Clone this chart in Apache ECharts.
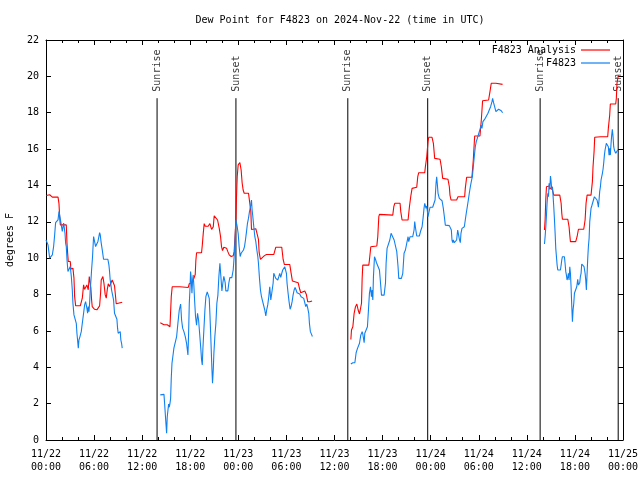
<!DOCTYPE html>
<html>
<head>
<meta charset="utf-8">
<script src="https://cdn.jsdelivr.net/npm/echarts@6/dist/echarts.min.js"></script>
<style>html,body{margin:0;padding:0;background:#fff}#c{width:640px;height:480px}</style>
</head>
<body>
<div id="c"></div>
<script>
// hours since 2024-11-22 00:00 UTC, dew point (degrees F)
const xTickLabels = ['11/22\n00:00','11/22\n06:00','11/22\n12:00','11/22\n18:00','11/23\n00:00','11/23\n06:00','11/23\n12:00','11/23\n18:00','11/24\n00:00','11/24\n06:00','11/24\n12:00','11/24\n18:00','11/25\n00:00'];

const analysisSeg1 = [[0.04,13.45],[0.46,13.49],[0.79,13.36],[1.5,13.36],[1.62,13.0],[1.7,12.3],[1.79,11.83],[2.53,11.83],[2.62,10.8],[2.7,10.28],[2.78,9.82],[3.03,9.82],[3.11,9.4],[3.36,9.45],[3.49,8.9],[3.57,7.9],[3.7,7.38],[4.28,7.38],[4.4,7.43],[4.53,7.8],[4.69,8.53],[4.82,8.29],[5.02,8.26],[5.1,8.53],[5.27,8.26],[5.4,8.99],[5.52,9.08],[5.6,8.35],[5.69,7.7],[5.77,7.33],[6.06,7.19],[6.35,7.16],[6.52,7.12],[6.69,7.38],[6.81,8.07],[6.89,8.8],[7.1,8.99],[7.23,8.62],[7.39,7.98],[7.52,7.8],[7.64,8.26],[7.77,8.59],[7.93,8.44],[8.1,8.53],[8.26,8.8],[8.43,8.84],[8.55,8.48],[8.68,7.89],[8.76,7.49],[8.97,7.58],[9.51,7.58]];
const analysisSeg2 = [[14.26,6.45],[14.47,6.56],[14.72,6.34],[15.13,6.34],[15.3,6.38],[15.47,6.23],[15.55,6.23],[15.63,7.88],[15.75,8.43],[16.71,8.43],[17.75,8.39],[17.88,8.6],[18.29,8.69],[18.62,9.1],[18.7,9.87],[18.79,10.3],[19.41,10.3],[19.5,10.7],[19.62,11.35],[19.74,11.9],[19.87,11.76],[20.24,11.76],[20.45,11.9],[20.66,11.58],[20.87,11.72],[20.99,12.33],[21.2,12.28],[21.41,12.1],[21.62,11.64],[21.78,11.19],[21.9,10.64],[22.03,10.42],[22.19,10.6],[22.53,10.55],[22.69,10.36],[22.86,10.18],[23.11,10.09],[23.36,10.13],[23.48,10.36],[23.61,10.27],[23.69,12.01],[23.77,13.38],[23.86,14.48],[23.98,15.13],[24.19,15.26],[24.35,14.85],[24.48,14.12],[24.6,13.75],[24.73,13.57],[25.27,13.57],[25.43,13.02],[25.56,12.56],[25.64,11.58],[25.85,11.49],[26.18,11.62],[26.35,11.58],[26.51,11.03],[26.6,10.3],[26.76,9.93],[26.93,9.84],[27.26,10.14],[27.51,10.2],[28.42,10.2],[28.67,10.6],[29.42,10.6],[29.59,9.93],[29.75,9.65],[30.42,9.65],[30.58,9.19],[30.75,8.74],[30.92,8.65],[31.46,8.65],[31.66,8.29],[31.79,8.1],[32.29,8.2],[32.49,8.0],[32.66,7.6],[32.91,7.6],[33.2,7.65]];
const analysisSeg3 = [[38.04,5.53],[38.12,6.05],[38.29,6.23],[38.45,6.97],[38.62,7.33],[38.79,7.48],[38.95,7.15],[39.12,6.93],[39.28,6.87],[39.37,7.52],[39.45,8.89],[39.53,9.62],[40.28,9.62],[40.36,9.9],[40.53,10.63],[41.28,10.67],[41.4,11.18],[41.53,12.28],[41.61,12.41],[43.27,12.37],[43.4,12.83],[43.52,13.02],[44.18,13.02],[44.27,12.56],[44.43,12.1],[45.18,12.1],[45.35,12.83],[45.51,13.38],[45.68,13.84],[46.26,13.9],[46.39,14.48],[46.51,14.7],[47.26,14.7],[47.34,15.03],[47.51,15.58],[47.67,16.41],[47.76,16.65],[48.17,16.65],[48.34,16.32],[48.5,15.49],[48.67,15.44],[49.17,15.44],[49.33,15.03],[49.5,14.39],[50.16,14.34],[50.33,13.93],[50.41,13.47],[50.54,13.2],[51.24,13.2],[51.41,13.38],[52.24,13.38],[52.32,13.84],[52.49,14.45],[53.15,14.45],[53.32,15.4],[53.49,16.72],[54.15,16.72],[54.32,17.6],[54.48,18.66],[55.23,18.7],[55.4,19.16],[55.56,19.62],[56.14,19.62],[56.31,19.56],[56.97,19.56]];
const analysisSeg4 = [[62.2,11.55],[62.28,12.1],[62.37,13.29],[62.45,13.93],[62.53,13.97],[62.78,13.97],[62.87,13.79],[63.11,13.93],[63.2,13.75],[63.36,13.47],[64.11,13.47],[64.28,13.02],[64.36,12.47],[64.44,12.14],[65.11,12.14],[65.27,11.73],[65.36,11.27],[65.44,10.91],[66.1,10.91],[66.27,11.18],[66.44,11.59],[67.1,11.59],[67.27,12.1],[67.39,13.02],[67.52,13.47],[68.01,13.47],[68.18,14.21],[68.26,15.03],[68.39,15.86],[68.47,16.65],[69.22,16.68],[70.09,16.68],[70.17,17.14],[70.34,17.87],[70.42,18.48],[71.09,18.48],[71.17,18.79],[71.25,19.62],[71.42,20.07]];

const obsSeg1 = [[0,11.0],[0.12,11.0],[0.25,10.73],[0.46,10.0],[0.66,10.0],[0.79,10.18],[0.95,10.64],[1.08,11.28],[1.2,11.96],[1.37,12.02],[1.5,12.11],[1.62,12.57],[1.74,12.48],[1.87,11.93],[2.03,11.47],[2.2,11.93],[2.37,11.38],[2.45,10.83],[2.53,10.64],[2.62,9.91],[2.74,9.27],[2.87,9.27],[3.03,9.54],[3.16,8.99],[3.28,8.26],[3.36,7.52],[3.49,6.88],[3.7,6.83],[3.78,6.42],[3.86,5.87],[3.94,5.5],[4.03,5.05],[4.11,5.5],[4.24,5.69],[4.4,5.96],[4.53,6.42],[4.69,6.97],[4.82,7.43],[4.94,7.61],[5.1,7.25],[5.19,6.97],[5.27,7.34],[5.36,7.06],[5.44,7.52],[5.52,8.26],[5.61,8.8],[5.69,9.36],[5.81,10.09],[5.86,10.55],[5.94,11.19],[6.02,11.28],[6.1,11.1],[6.19,10.64],[6.27,10.73],[6.35,10.64],[6.48,10.92],[6.6,11.19],[6.69,11.41],[6.77,11.28],[6.89,10.83],[7.02,10.46],[7.18,9.94],[7.72,9.94],[7.85,9.63],[7.93,9.27],[8.01,8.8],[8.1,8.53],[8.18,8.26],[8.35,8.17],[8.43,7.71],[8.55,6.97],[8.68,6.97],[8.85,6.64],[8.93,6.15],[9.01,5.87],[9.1,5.96],[9.18,5.78],[9.26,5.96],[9.34,5.5],[9.43,5.32],[9.51,5.05]];
const obsSeg2 = [[14.26,2.48],[14.72,2.51],[14.8,2.01],[14.88,1.47],[14.97,0.88],[15.05,0.37],[15.13,1.28],[15.22,1.65],[15.3,1.98],[15.38,1.8],[15.47,2.01],[15.55,2.29],[15.63,3.39],[15.72,4.22],[15.88,4.77],[15.96,5.05],[16.13,4.95],[16.3,5.69],[16.46,6.42],[16.63,7.15],[16.8,7.48],[16.92,6.6],[17.05,6.15],[17.21,5.96],[17.38,5.69],[17.54,5.32],[17.71,4.68],[17.79,5.78],[17.88,7.52],[17.96,8.25],[18.04,9.26],[18.12,8.89],[18.21,8.07],[18.29,8.8],[18.37,9.08],[18.46,8.43],[18.54,7.7],[18.66,6.78],[18.79,6.32],[18.91,6.97],[19.04,6.6],[19.2,5.69],[19.33,4.95],[19.41,4.4],[19.5,4.13],[19.58,5.05],[19.7,6.05],[19.83,7.15],[19.95,7.88],[20.12,8.15],[20.24,8.25],[20.37,7.79],[20.45,6.97],[20.53,6.05],[20.62,4.95],[20.7,3.94],[20.78,3.12],[20.87,3.85],[20.95,4.77],[21.07,5.69],[21.2,6.42],[21.32,7.52],[21.45,7.97],[21.57,8.98],[21.7,9.72],[21.82,9.0],[21.95,8.2],[22.07,8.65],[22.19,9.0],[22.36,8.65],[22.44,8.2],[22.69,8.2],[22.82,8.65],[22.94,8.93],[23.19,8.93],[23.36,9.35],[23.48,10.09],[23.61,11.18],[23.69,12.1],[23.86,11.73],[23.98,11.36],[24.1,10.64],[24.23,10.09],[24.35,10.27],[24.52,10.27],[24.64,10.45],[24.77,10.64],[24.89,11.0],[25.02,11.46],[25.14,11.92],[25.27,12.2],[25.39,12.56],[25.52,12.83],[25.64,13.2],[25.72,12.65],[25.81,12.28],[25.93,11.73],[26.06,11.18],[26.18,10.91],[26.31,10.45],[26.43,10.09],[26.51,9.72],[26.64,8.88],[26.76,8.25],[26.89,7.88],[27.01,7.66],[27.18,7.66],[27.3,7.15],[27.43,6.82],[27.55,7.19],[27.67,7.43],[27.8,7.88],[27.92,8.43],[28.05,7.7],[28.17,8.07],[28.34,8.62],[28.42,9.17],[28.55,9.17],[28.67,8.89],[28.8,8.98],[28.92,8.8],[29.05,8.98],[29.17,9.17],[29.29,8.95],[29.42,9.17],[29.54,9.35],[29.67,9.44],[29.79,9.53],[29.92,9.62],[30.0,9.17],[30.08,8.62],[30.21,8.07],[30.33,7.61],[30.46,7.19],[30.58,7.34],[30.71,7.61],[30.83,7.97],[30.96,8.25],[31.08,8.39],[31.21,8.25],[31.33,8.1],[31.5,8.07],[31.66,8.03],[31.83,7.88],[32.0,7.83],[32.16,7.79],[32.29,7.55],[32.41,7.34],[32.54,7.47],[32.66,7.25],[32.79,6.97],[32.87,6.42],[32.99,5.96],[33.16,5.78],[33.24,5.69]];
const obsSeg3 = [[38.04,4.18],[38.29,4.25],[38.54,4.25],[38.7,4.8],[38.87,5.04],[38.99,4.99],[39.12,5.32],[39.28,5.77],[39.45,5.96],[39.53,5.83],[39.7,5.35],[39.78,5.87],[39.95,5.87],[40.11,6.23],[40.2,6.87],[40.36,8.07],[40.49,8.43],[40.61,7.88],[40.7,8.25],[40.78,7.7],[40.86,8.98],[40.99,10.08],[41.11,9.94],[41.24,9.75],[41.44,9.75],[41.61,9.35],[41.78,8.43],[41.86,7.97],[42.19,7.97],[42.36,8.62],[42.44,9.72],[42.56,10.54],[42.77,10.63],[42.9,11.0],[43.06,11.37],[43.27,11.33],[43.44,11.0],[43.6,10.91],[43.77,10.36],[43.93,9.53],[44.02,8.89],[44.18,8.98],[44.35,8.89],[44.52,9.17],[44.68,10.27],[44.85,10.45],[45.01,10.54],[45.18,11.18],[45.26,10.91],[45.43,11.18],[45.6,11.27],[45.76,11.18],[45.93,11.55],[46.01,12.01],[46.09,11.73],[46.26,11.22],[46.59,11.22],[46.76,11.51],[46.93,11.73],[47.05,12.19],[47.17,12.74],[47.26,13.02],[47.34,12.92],[47.42,12.74],[47.51,12.87],[47.67,12.28],[47.8,12.56],[47.92,12.8],[48.05,12.83],[48.25,12.8],[48.42,12.83],[48.55,13.2],[48.67,14.12],[48.75,14.48],[48.83,14.08],[48.92,13.57],[49.08,13.29],[49.25,13.29],[49.42,13.16],[49.58,12.74],[49.71,12.28],[49.83,11.82],[50.0,11.79],[50.33,11.79],[50.5,11.77],[50.58,11.55],[50.66,11.0],[50.75,10.85],[50.83,11.0],[50.95,10.85],[51.08,10.91],[51.24,11.0],[51.37,11.55],[51.49,11.27],[51.58,11.04],[51.7,10.85],[51.78,11.36],[51.91,11.64],[52.07,11.64],[52.2,11.73],[52.32,12.1],[52.45,12.5],[52.57,12.83],[52.7,13.2],[52.82,13.57],[52.95,13.93],[53.07,14.21],[53.2,14.48],[53.32,15.03],[53.44,15.58],[53.57,16.13],[53.69,16.41],[53.82,16.59],[53.94,16.77],[54.11,16.87],[54.19,17.14],[54.28,17.32],[54.4,17.14],[54.52,17.51],[54.65,17.6],[54.81,17.69],[54.98,17.78],[55.15,17.97],[55.31,18.15],[55.48,18.33],[55.65,18.61],[55.73,18.79],[55.85,18.55],[55.98,18.33],[56.14,18.06],[56.31,18.11],[56.48,18.19],[56.64,18.15],[56.81,18.11],[56.97,18.0]];
const obsSeg4 = [[62.2,10.78],[62.28,11.18],[62.37,11.73],[62.45,12.37],[62.53,13.05],[62.62,13.57],[62.7,13.38],[62.78,14.12],[62.87,13.84],[62.95,14.52],[63.03,14.21],[63.11,13.75],[63.2,13.93],[63.28,13.38],[63.36,12.83],[63.45,12.1],[63.53,11.37],[63.61,10.54],[63.78,9.62],[63.86,9.35],[64.03,9.26],[64.19,9.35],[64.28,9.62],[64.36,9.9],[64.44,10.08],[64.69,10.08],[64.77,9.72],[64.86,9.26],[64.94,9.07],[65.02,8.8],[65.11,8.95],[65.19,9.17],[65.27,8.8],[65.36,9.53],[65.44,9.17],[65.52,8.43],[65.61,7.33],[65.69,6.51],[65.77,7.15],[65.86,7.52],[65.94,8.07],[66.1,8.16],[66.23,8.43],[66.35,8.84],[66.44,8.52],[66.52,8.43],[66.6,8.65],[66.68,8.98],[66.77,9.17],[66.85,9.68],[67.02,9.75],[67.14,9.53],[67.27,9.17],[67.35,8.8],[67.43,8.25],[67.52,9.17],[67.6,9.99],[67.68,10.63],[67.77,11.09],[67.85,12.01],[67.93,12.37],[68.01,12.74],[68.1,12.87],[68.26,12.92],[68.43,13.38],[68.6,13.42],[68.76,13.2],[68.85,13.02],[68.93,12.8],[69.01,13.2],[69.09,13.66],[69.18,13.93],[69.26,14.3],[69.34,14.34],[69.43,14.67],[69.51,14.89],[69.59,15.22],[69.68,15.67],[69.76,15.95],[69.92,16.32],[70.09,16.32],[70.17,16.13],[70.26,15.67],[70.34,16.04],[70.42,15.67],[70.51,16.32],[70.59,16.77],[70.67,17.09],[70.76,16.68],[70.84,16.13],[70.92,15.95],[71.01,15.95],[71.09,15.77],[71.17,15.67],[71.25,15.86],[71.34,15.95]];

const eventTimes = [13.86, 23.70, 37.66, 47.63, 61.66, 71.40];
const eventNames = ['Sunrise','Sunset','Sunrise','Sunset','Sunrise','Sunset'];
const eventLineTop = 18.8;

function joinSegs(segs){
  const out = [];
  segs.forEach((s,i)=>{ if(i>0) out.push([(segs[i-1][segs[i-1].length-1][0]+s[0][0])/2, null]); s.forEach(p=>out.push(p)); });
  return out;
}
const eventLines = [];
eventTimes.forEach(t=>{ eventLines.push([t,0]); eventLines.push([t,eventLineTop]); eventLines.push([t,null]); });
const eventLabels = eventTimes.map((t,i)=>({value:[t,eventLineTop], name:eventNames[i]}));

const FONT = 'DejaVu Sans Mono';
const txt = {fontFamily:FONT, fontSize:10, color:'#000'};
const axisCommon = {
  axisLine:{show:true, onZero:false, lineStyle:{color:'#000', width:1}},
  axisTick:{show:true, inside:true, length:5, lineStyle:{color:'#000'}},
  splitLine:{show:false}
};
const chart = echarts.init(document.getElementById('c'), null, {renderer:'canvas'});
chart.setOption({
  animation:false,
  backgroundColor:'#fff',
  title:{text:'Dew Point for F4823 on 2024-Nov-22 (time in UTC)', left:335, textAlign:'center', top:10, textStyle:{...txt, fontWeight:'normal'}},
  grid:{left:46, right:17, top:40, bottom:40, show:false, containLabel:false, outerBoundsMode:'none'},
  legend:[
    {data:['F4823 Analysis'], right:30, top:45, align:'right', orient:'vertical', icon:'rect', itemWidth:29, itemHeight:1.2, textStyle:txt, padding:0},
    {data:['F4823'], right:30, top:58, align:'right', orient:'vertical', icon:'rect', itemWidth:29, itemHeight:1.2, textStyle:txt, padding:0}
  ],
  xAxis:[
    {type:'value', min:0, max:72, interval:6, position:'bottom', ...axisCommon,
     minorTick:{show:true, splitNumber:3, length:3, lineStyle:{color:'#000'}},
     axisLabel:{...txt, margin:8, lineHeight:13, formatter:v=>xTickLabels[Math.round(v/6)]}},
    {type:'value', min:0, max:72, interval:6, position:'top', ...axisCommon,
     minorTick:{show:true, splitNumber:3, length:3, lineStyle:{color:'#000'}},
     axisLabel:{show:false}}
  ],
  yAxis:[
    {type:'value', min:0, max:22, interval:2, position:'left', ...axisCommon,
     name:'degrees F', nameLocation:'middle', nameGap:31, nameTextStyle:txt,
     axisLabel:{...txt, margin:7}},
    {type:'value', min:0, max:22, interval:2, position:'right', ...axisCommon,
     axisLabel:{show:false}}
  ],
  series:[
    {name:'events', type:'line', data:eventLines, symbol:'none', silent:true,
     lineStyle:{color:'#000', width:1}, connectNulls:false},
    {name:'eventLabels', type:'scatter', data:eventLabels, symbolSize:1, silent:true,
     itemStyle:{color:'rgba(0,0,0,0)'},
     label:{show:true, formatter:p=>p.name, position:'top', distance:6, rotate:90, align:'left', verticalAlign:'middle', ...txt}},
    {name:'F4823 Analysis', type:'line', data:joinSegs([analysisSeg1,analysisSeg2,analysisSeg3,analysisSeg4]),
     symbol:'none', connectNulls:false, color:'#ff0000', lineStyle:{color:'#ff0000', width:1.1}},
    {name:'F4823', type:'line', data:joinSegs([obsSeg1,obsSeg2,obsSeg3,obsSeg4]),
     symbol:'none', connectNulls:false, color:'#1080f0', lineStyle:{color:'#1080f0', width:1.1}}
  ]
});
</script>
</body>
</html>
